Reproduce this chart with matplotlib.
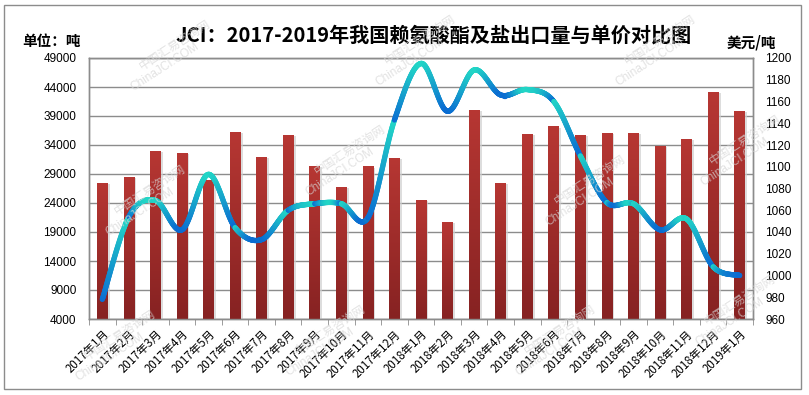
import numpy as np
import matplotlib
matplotlib.use('Agg')
import matplotlib.pyplot as plt
from matplotlib.collections import LineCollection
from matplotlib.colors import LinearSegmentedColormap, to_rgb
from matplotlib.patches import Rectangle

plt.rcParams['font.family'] = ['Noto Sans CJK SC', 'DejaVu Sans']

months = ['2017年1月', '2017年2月', '2017年3月', '2017年4月', '2017年5月', '2017年6月',
          '2017年7月', '2017年8月', '2017年9月', '2017年10月', '2017年11月', '2017年12月',
          '2018年1月', '2018年2月', '2018年3月', '2018年4月', '2018年5月', '2018年6月',
          '2018年7月', '2018年8月', '2018年9月', '2018年10月', '2018年11月', '2018年12月',
          '2019年1月']
volume = [27500, 28500, 33000, 32700, 27900, 36300, 32000, 35800, 30400, 26800, 30300, 31800,
          24500, 20800, 40100, 27500, 35900, 37200, 35800, 36100, 36100, 33900, 35100, 43200,
          39900]
price = [978, 1054, 1069, 1042, 1093, 1044, 1033, 1060, 1066, 1066, 1053, 1143,
         1195, 1151, 1189, 1166, 1171, 1160, 1110, 1067, 1066, 1042, 1052, 1008, 1000]
left_ticks = list(range(4000, 49001, 5000))
right_ticks = list(range(960, 1201, 20))

W, H = 809, 395
fig = plt.figure(figsize=(W / 100, H / 100), dpi=100)
ax = fig.add_axes([89 / W, 1 - 319 / H, (753 - 89) / W, (319 - 58) / H])
ax2 = ax.twinx()

x = np.arange(len(months))
bw = 0.4
base = left_ticks[0]
heights = np.array(volume) - base

# light shadow to the right of each bar
ax.bar(x + 0.08, heights - 200, bw, bottom=base, color='#cfcfcf',
       alpha=0.7, zorder=2, linewidth=0)
bars = ax.bar(x, heights, bw, bottom=base, color='#A02E2E', zorder=3, linewidth=0)
cmap_bar = LinearSegmentedColormap.from_list('bar', ['#862222', '#B73733'])
grad = np.linspace(0, 1, 256).reshape(-1, 1)
for b in bars:
    x0, y0 = b.get_x(), b.get_y()
    im = ax.imshow(grad, cmap=cmap_bar, origin='lower', aspect='auto',
                   extent=[x0, x0 + b.get_width(), y0, y0 + b.get_height()], zorder=3)
    im.set_clip_path(b)
ax.set_xlim(-0.5, len(months) - 0.5)
ax.set_ylim(left_ticks[0], left_ticks[-1])
ax2.set_ylim(right_ticks[0], right_ticks[-1])

# grid and ticks
ax.set_yticks(left_ticks)
ax.yaxis.grid(True, color='#8c8c8c', linewidth=1)
ax.set_axisbelow(True)
ax.tick_params(axis='y', length=0, pad=9, labelsize=8.5)
ax2.set_yticks(right_ticks)
ax2.tick_params(axis='y', length=0, pad=9, labelsize=8.5)
for lab in ax.get_yticklabels() + ax2.get_yticklabels():
    lab.set_family(['Liberation Sans', 'DejaVu Sans'])

ax.set_xticks(x)
ax.set_xticklabels(months, rotation=45, ha='right', rotation_mode='anchor', fontsize=8.3)
ax.tick_params(axis='x', which='major', length=0, pad=6)
ax.set_xticks(np.arange(-0.5, len(months), 1), minor=True)
ax.tick_params(axis='x', which='minor', length=4, color='#8c8c8c', direction='out')

for a in (ax, ax2):
    for s in a.spines.values():
        s.set_color('#8c8c8c')
        s.set_linewidth(1)

# smooth price line (Catmull-Rom / Bezier through the data points)
px = x.astype(float)
py = np.array(price, dtype=float)
cyan = np.array(to_rgb('#22D6C6'))
blue = np.array(to_rgb('#0A6CD2'))
n = len(px)
for i in range(n - 1):
    p0 = np.array([px[max(i - 1, 0)], py[max(i - 1, 0)]])
    p1 = np.array([px[i], py[i]])
    p2 = np.array([px[i + 1], py[i + 1]])
    p3 = np.array([px[min(i + 2, n - 1)], py[min(i + 2, n - 1)]])
    c1 = p1 + (p2 - p0) / 6.0
    c2 = p2 - (p3 - p1) / 6.0
    t = np.linspace(0, 1, 60)[:, None]
    pts = ((1 - t) ** 3) * p1 + 3 * ((1 - t) ** 2) * t * c1 + 3 * (1 - t) * t ** 2 * c2 + t ** 3 * p2
    ys = pts[:, 1]
    lo, hi = ys.min(), ys.max()
    frac = (ys - lo) / (hi - lo) if hi > lo else np.zeros_like(ys)
    segs = np.stack([pts[:-1], pts[1:]], axis=1)
    fm = (frac[:-1] + frac[1:]) / 2
    cols = [tuple(blue * (1 - f) + cyan * f) for f in fm]
    lc = LineCollection(segs, colors=cols, linewidths=3.8, capstyle='round', zorder=5)
    ax2.add_collection(lc)

# watermarks
wm_pos = [(175, 45), (420, 40), (660, 40), (150, 190), (350, 150), (590, 180),
          (120, 335), (330, 330), (560, 330), (740, 300), (745, 140)]
for (wx, wy) in wm_pos:
    fig.text(wx / W, 1 - wy / H, '中国汇易咨询网', rotation=33, color='#d6d6d6',
             fontsize=8.5, ha='center', va='center', zorder=6, alpha=0.7)
    fig.text((wx - 10) / W, 1 - (wy + 22) / H, 'ChinaJCI.COM', rotation=33,
             color='#d6d6d6', fontsize=8.5, ha='center', va='center', zorder=6, alpha=0.7,
             family=['Liberation Sans', 'DejaVu Sans'])

# texts
fig.text(434 / W, 1 - 35 / H, 'JCI：2017-2019年我国赖氨酸酯及盐出口量与单价对比图',
         ha='center', va='center', fontsize=14.5, fontweight='bold')
fig.text(22 / W, 1 - 41 / H, '单位：吨', ha='left', va='center', fontsize=10.5,
         fontweight='bold')
fig.text(727 / W, 1 - 43 / H, '美元/吨', ha='left', va='center', fontsize=10.5,
         fontweight='bold')

fig.patches.append(Rectangle((4 / W, 1 - 389 / H), 797 / W, 384 / H, transform=fig.transFigure,
                             fill=False, edgecolor='#8c8c8c', linewidth=1))

fig.savefig('out.png', dpi=100)
